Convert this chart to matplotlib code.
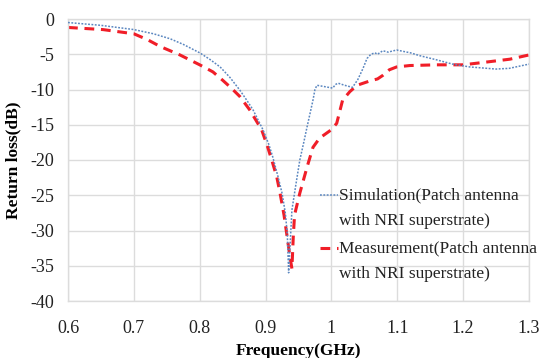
import matplotlib
matplotlib.use("Agg")
import matplotlib.pyplot as plt
from matplotlib.lines import Line2D

# Return loss of the patch antenna with NRI superstrate
sim_freq = [0.600, 0.650, 0.700, 0.730, 0.755, 0.775, 0.800, 0.815, 0.831, 0.846,
            0.861, 0.872, 0.881, 0.896, 0.905, 0.911, 0.919, 0.925, 0.930, 0.933,
            0.935, 0.937, 0.940, 0.946, 0.952, 0.958, 0.963, 0.968, 0.972, 0.975,
            0.978, 0.990, 1.002, 1.006, 1.010, 1.020, 1.032, 1.040, 1.048, 1.054,
            1.060, 1.066, 1.070, 1.078, 1.086, 1.099, 1.120, 1.134, 1.160, 1.184,
            1.210, 1.250, 1.270, 1.300]
sim_rl = [-0.5, -0.9, -1.5, -2.1, -2.8, -3.6, -4.8, -5.7, -6.8, -8.3,
          -10.1, -11.6, -12.9, -15.7, -17.8, -19.6, -22.4, -24.7, -27.5, -30.5,
          -36.0, -32.5, -27.1, -23.5, -20.0, -17.5, -15.3, -13.2, -11.5, -10.0,
          -9.4, -9.6, -9.8, -9.3, -9.1, -9.4, -9.7, -8.6, -7.0, -5.6,
          -5.0, -4.8, -5.0, -4.5, -4.7, -4.4, -4.8, -5.2, -5.8, -6.4,
          -6.8, -7.1, -7.0, -6.4]

meas_freq = [0.600, 0.653, 0.700, 0.720, 0.740, 0.770, 0.800, 0.820, 0.835, 0.848,
             0.861, 0.876, 0.894, 0.903, 0.910, 0.917, 0.922, 0.928, 0.932, 0.937,
             0.940, 0.942, 0.944, 0.952, 0.963, 0.972, 0.982, 1.000, 1.008, 1.017,
             1.028, 1.039, 1.058, 1.070, 1.078, 1.088, 1.099, 1.119, 1.160, 1.200,
             1.236, 1.271, 1.300]
meas_rl = [-1.2, -1.5, -2.1, -2.9, -3.9, -5.1, -6.5, -7.5, -8.7, -9.8,
           -11.0, -12.9, -15.7, -18.1, -20.2, -22.4, -24.7, -27.8, -30.4, -33.7,
           -35.4, -31.0, -27.8, -24.7, -21.0, -18.2, -16.9, -15.7, -14.8, -11.5,
           -10.3, -9.4, -8.8, -8.5, -8.0, -7.2, -6.8, -6.6, -6.5, -6.5,
           -6.1, -5.7, -5.1]

x_ticks = [0.6, 0.7, 0.8, 0.9, 1.0, 1.1, 1.2, 1.3]
x_tick_labels = ["0.6", "0.7", "0.8", "0.9", "1", "1.1", "1.2", "1.3"]
y_ticks = [0, -5, -10, -15, -20, -25, -30, -35, -40]

sim_label = ["Simulation(Patch antenna", "with NRI superstrate)"]
meas_label = ["Measurement(Patch antenna", "with NRI superstrate)"]

plt.rcParams["font.family"] = ["Liberation Serif", "DejaVu Serif"]
plt.rcParams["axes.unicode_minus"] = False

W, H = 539, 358
fig = plt.figure(figsize=(W / 100, H / 100), dpi=100)
ax = fig.add_axes([68 / W, 1 - 301 / H, 461 / W, 282 / H])

sim_color = "#5b87c0"
meas_color = "#f01e28"
sim_style = dict(color=sim_color, linewidth=1.1, linestyle=(0, (1.2, 1.0)))
meas_style = dict(color=meas_color, linewidth=2.2, linestyle=(0, (3.2, 2.2)))

ax.plot(sim_freq, sim_rl, zorder=3, **sim_style)
ax.plot(meas_freq, meas_rl, zorder=2, **meas_style)

ax.set_xlim(0.6, 1.3)
ax.set_ylim(-40, 0)
ax.set_xticks(x_ticks)
ax.set_xticklabels(x_tick_labels)
ax.set_yticks(y_ticks)
ax.tick_params(length=0, labelsize=13, colors="#222222")
ax.tick_params(axis="x", pad=14)
ax.tick_params(axis="y", pad=10)
ax.grid(True, color="#dcdcdc", linewidth=1.0)
for s in ax.spines.values():
    s.set_color("#dcdcdc")
    s.set_linewidth(1.0)

ax.set_xlabel("Frequency(GHz)", fontsize=12.5, fontweight="bold", labelpad=4)
ax.set_ylabel("Return loss(dB)", fontsize=12.5, fontweight="bold", labelpad=6)

# Legend: handle beside the first line of each two-line label
def legend_entry(y_px, style, lines):
    y = 1 - y_px / H
    fig.add_artist(Line2D([320 / W, 338 / W], [y, y], transform=fig.transFigure, **style))
    for i, txt in enumerate(lines):
        fig.text(339 / W, 1 - (y_px + 26 * i) / H, txt, fontsize=12.5,
                 va="center", ha="left", color="#222222")

legend_entry(195, sim_style, sim_label)
legend_entry(248, meas_style, meas_label)

fig.savefig("out.png", dpi=100, facecolor="white")
